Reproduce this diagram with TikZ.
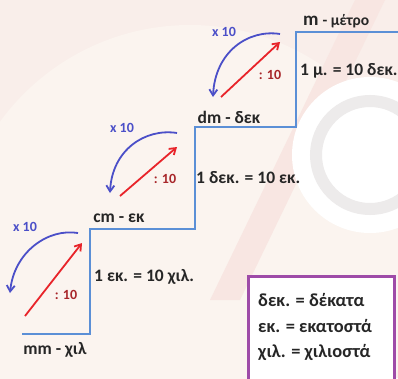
\documentclass[tikz,border=0pt]{standalone}
\usepackage{fontspec}
\setmainfont{Carlito}
\usetikzlibrary{arrows.meta}
\definecolor{bgc}{HTML}{F9EEEA}
\definecolor{bglight}{HTML}{FBF4EF}
\definecolor{bandc}{HTML}{F8E6E2}
\definecolor{ringc}{HTML}{EDEBEB}
\definecolor{stairc}{HTML}{5B8FD6}
\definecolor{bluearr}{HTML}{4B4FC8}
\definecolor{redarr}{HTML}{E8242A}
\definecolor{divc}{HTML}{A8262A}
\definecolor{boxc}{HTML}{9E4BA8}
\begin{document}
\begin{tikzpicture}[x=1pt,y=-1pt,
  stair/.style={draw=stairc,line width=1.5pt},
  mularr/.style={draw=bluearr,line width=1.8pt,-{Straight Barb[length=6pt,width=8pt,line width=1.8pt]}},
  divarr/.style={draw=redarr,line width=1.8pt,-{Straight Barb[length=6pt,width=8pt,line width=1.8pt]}},
  unit/.style={font=\bfseries\fontsize{17.5}{19}\selectfont,text=black!85,inner sep=0pt},
  eqtext/.style={font=\bfseries\fontsize{17.5}{19}\selectfont,text=black!85,inner sep=0pt,anchor=west},
  multxt/.style={font=\bfseries\fontsize{14}{16}\selectfont,text=bluearr,inner sep=0pt},
  divtxt/.style={font=\bfseries\fontsize{14}{16}\selectfont,text=divc,inner sep=0pt},
  legtxt/.style={font=\bfseries\fontsize{18.4}{20}\selectfont,text=black!85,inner sep=0pt,anchor=west}]
\useasboundingbox (0,0) rectangle (398,378);
% background
\fill[bgc] (0,0) rectangle (398,378);
\begin{scope}
\clip (0,0) rectangle (398,378);
\fill[bglight] (190,260) circle (235pt);
\fill[bandc] (355,0) -- (385,0) -- (240,300) -- (210,300) -- cycle;
\fill[white] (370,155) circle (78pt);
\draw[ringc,line width=12pt] (370,155) circle (54pt);
\end{scope}
% stairs
\draw[stair] (22,334) -- (90,334) -- (90,229) -- (195,229) -- (195,127) -- (296,127) -- (296,32) -- (398,32);
% unit labels
\node[unit] (mm) at (55,350) {mm - χιλ};
\node[unit] (cm) at (119,218) {cm - εκ};
\node[unit] (dm) at (229,117) {dm - δεκ};
\node[unit,anchor=west] (m) at (303,21) {{\fontsize{19}{20}\selectfont m} \fontsize{15.5}{17}\selectfont - μέτρο};
% equalities
\node[eqtext] (e1) at (94,277) {1 εκ. = 10 χιλ.};
\node[eqtext] (e2) at (196,178) {1 δεκ. = 10 εκ.};
\node[eqtext] (e3) at (300,71) {1 μ. = 10 δεκ.};
% arrows step 1
\coordinate (r1s) at (25,316); \coordinate (r1e) at (82,243);
\coordinate (b1s) at (78,233); \coordinate (b1e) at (10,293);
\draw[divarr] (r1s) -- (r1e);
\draw[mularr] (b1s) .. controls (48,228) and (14,252) .. (b1e);
\node[multxt] (x1) at (25,227) {x 10};
\node[divtxt] (d1) at (66,295) {: 10};
% arrows step 2
\coordinate (r2s) at (120,196); \coordinate (r2e) at (177,147);
\coordinate (b2s) at (177,133); \coordinate (b2e) at (110,193);
\draw[divarr] (r2s) -- (r2e);
\draw[mularr] (b2s) .. controls (145,128) and (112,150) .. (b2e);
\node[multxt] (x2) at (122,128) {x 10};
\node[divtxt] (d2) at (165,179) {: 10};
% arrows step 3
\coordinate (r3s) at (221,97); \coordinate (r3e) at (280,42);
\coordinate (b3s) at (280,34); \coordinate (b3e) at (213,97);
\draw[divarr] (r3s) -- (r3e);
\draw[mularr] (b3s) .. controls (248,29) and (215,52) .. (b3e);
\node[multxt] (x3) at (224,32) {x 10};
\node[divtxt] (d3) at (270,75) {: 10};
% legend
\node[draw=boxc,line width=2.5pt,fill=white,minimum width=146pt,minimum height=112pt,anchor=north west,inner sep=0pt] (leg) at (247,275) {};
\node[legtxt] (l1) at (258,300) {δεκ. = δέκατα};
\node[legtxt] (l2) at (258,326) {εκ. = εκατοστά};
\node[legtxt] (l3) at (258,352) {χιλ. = χιλιοστά};
\end{tikzpicture}
\end{document}
